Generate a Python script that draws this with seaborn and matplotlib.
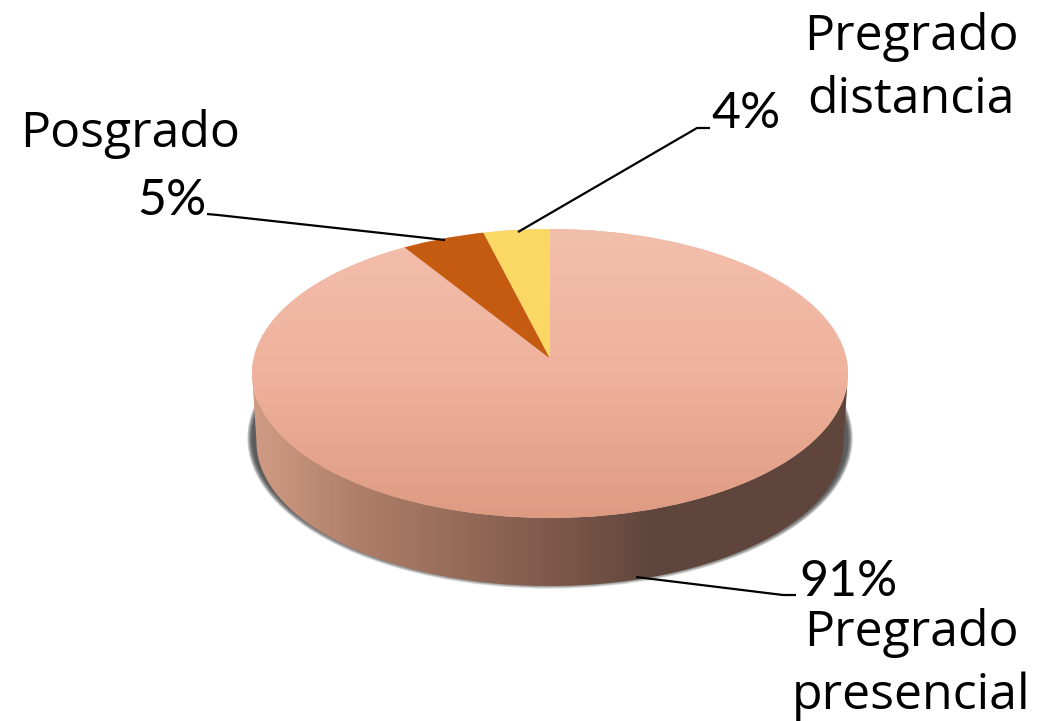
import numpy as np
import matplotlib
matplotlib.use('Agg')
import matplotlib.pyplot as plt
import seaborn as sns
from matplotlib.colors import LinearSegmentedColormap
from matplotlib.patches import Ellipse, Polygon

# datos del grafico
categorias = ['Pregrado\npresencial', 'Posgrado', 'Pregrado\ndistancia']
valores = [91, 5, 4]
colores = ['#EFB49F', '#C55A11', '#FBD764']

sns.set_theme(style='white')
plt.rcParams['font.family'] = ['Open Sans', 'DejaVu Sans']

W, H = 1050, 721
cx, cy = 550, 373.5    # centro de la tapa en pixeles
rx, ry = 298, 144.5    # radios de la elipse
depth = 68 / ry        # altura del cilindro
apex = 15 / ry         # el vertice queda mas arriba por la perspectiva
rx_base = 0.985        # la base se ve un poco mas angosta

fig = plt.figure(figsize=(W / 100, H / 100), dpi=100, facecolor='white')
ax = fig.add_axes([0, 0, 1, 1])


def pos(x, y):
    # pixeles de la imagen -> coordenadas de la figura
    return x / W, 1 - y / H


# sombra difusa detras del cilindro
for k in range(10):
    ax.add_patch(Ellipse((0, -depth * 0.95), 2 * (1.016 - k * 0.0018), 2 * (1.042 - k * 0.0045),
                         color='#333333', alpha=0.14, lw=0, zorder=1))

# pared lateral con gradiente horizontal
t = np.linspace(np.pi, 2 * np.pi, 300)
lado = np.r_[np.c_[np.cos(t), np.sin(t)],
             np.c_[rx_base * np.cos(t[::-1]), np.sin(t[::-1]) - depth]]
lado_patch = Polygon(lado, closed=True, fc='none', ec='none', zorder=2)
ax.add_patch(lado_patch)
cmap_lado = LinearSegmentedColormap.from_list('lado', [(0, '#D19C85'), (0.17, '#B07F6A'), (0.5, '#7F5A4B'),
                                                       (0.68, '#5F453B'), (1, '#5F453B')])
img = ax.imshow(np.linspace(0, 1, 400)[None, :], extent=(-1, 1, -1 - depth, 0), cmap=cmap_lado,
                aspect='auto', zorder=2, vmin=0, vmax=1)
img.set_clip_path(lado_patch)

# contorno de la tapa, recorta el pastel
tapa = Ellipse((0, 0), 2, 2, fc='none', ec='none', zorder=3)
ax.add_patch(tapa)

# tapa: el pastel aplastado, arranca arriba y va en sentido horario
wedges, _ = ax.pie(valores, colors=colores, startangle=90, counterclock=False, radius=1.4,
                   center=(0, apex), wedgeprops={'linewidth': 0, 'zorder': 3})
for w in wedges:
    w.set_clip_on(True)  # pie lo deja apagado
    w.set_clip_path(tapa)
wedges[1].set_zorder(4)
wedges[2].set_zorder(4)

# gradiente vertical en la rebanada grande
cmap_tapa = LinearSegmentedColormap.from_list('tapa', ['#F3BFAD', '#EFB29C', '#DE9B82'])
img2 = ax.imshow(np.linspace(0, 1, 300)[:, None], extent=(-1, 1, -1, 1), cmap=cmap_tapa,
                 aspect='auto', origin='upper', zorder=3.5, vmin=0, vmax=1)
img2.set_clip_path(tapa)

ax.set_xlim(-cx / rx, (W - cx) / rx)
ax.set_ylim(-(H - cy) / ry, cy / ry)
ax.set_aspect('auto')
ax.axis('off')

# lineas guia
guias = [
    ([636, 783, 796], [577, 595, 595]),
    ([445, 218, 207], [240, 215, 214]),
    ([518, 697, 710], [232, 128, 128]),
]
for xs, ys in guias:
    ax.plot((np.array(xs) - cx) / rx, (cy - np.array(ys)) / ry, color='black', lw=1.6, zorder=5,
            solid_capstyle='butt')

# porcentajes
porcentajes = [(valores[0], 848, 596), (valores[1], 172, 215), (valores[2], 746, 128)]
for v, x, y in porcentajes:
    fig.text(*pos(x, y), f'{v}%', fontsize=36, family=['Lato', 'DejaVu Sans'], ha='center',
             va='baseline', color='black')

# nombres, cada renglon por separado (interlineado 63 px)
nombres = [(categorias[0], 911, 646), (categorias[1], 130, 147), (categorias[2], 911, 50)]
for txt, x, y in nombres:
    for i, linea in enumerate(txt.split('\n')):
        fig.text(*pos(x, y + i * 63), linea, fontsize=36, ha='center', va='baseline', color='black')

fig.savefig('out.png', dpi=100, facecolor='white')
